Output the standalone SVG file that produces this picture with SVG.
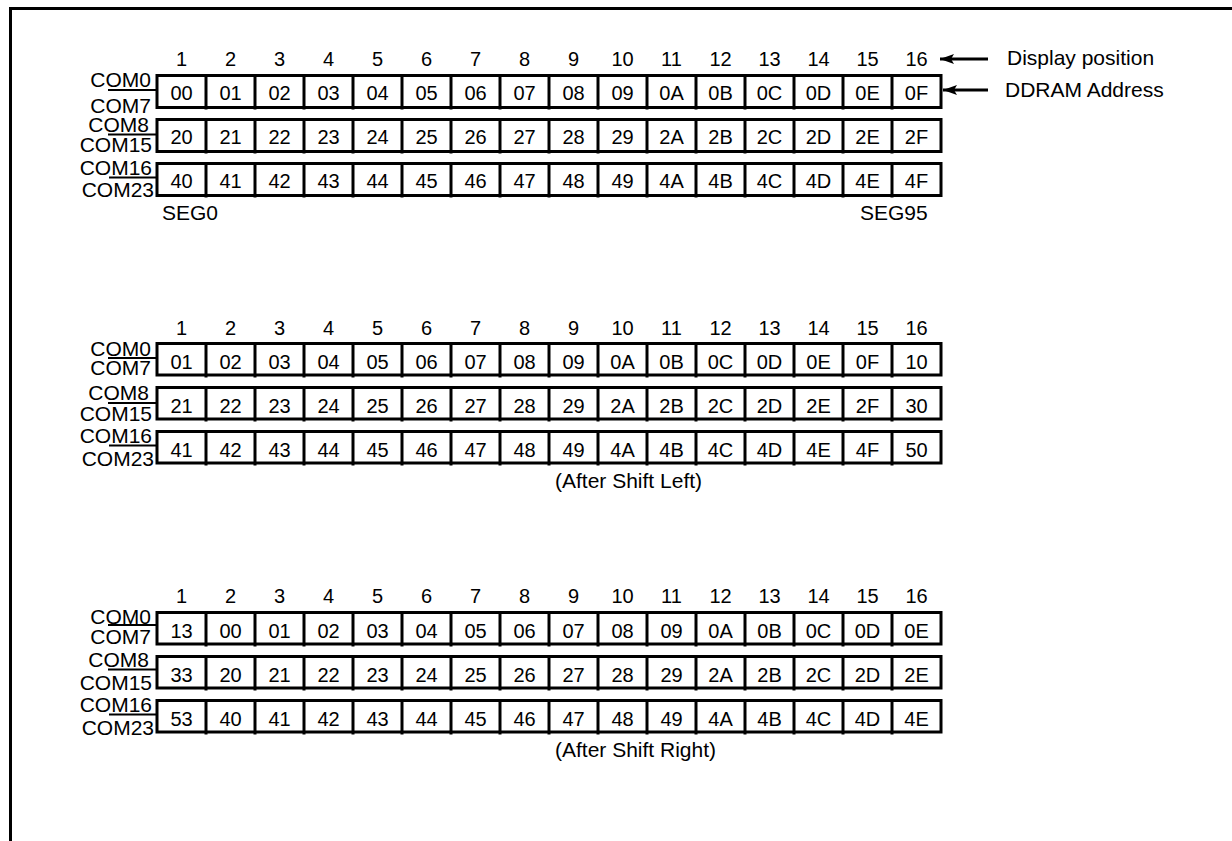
<svg xmlns="http://www.w3.org/2000/svg" width="1232" height="841" viewBox="0 0 1232 841">
<style>
text{font-family:"Liberation Sans",Arial,sans-serif;fill:#000}
.n{font-size:20px;text-anchor:middle}
.c{font-size:20px;text-anchor:middle}
.com{font-size:21px;text-anchor:end}
.lbl{font-size:21px}
.row{fill:#fff;stroke:#000;stroke-width:3}
.div{stroke:#000;stroke-width:3}
.ul{stroke:#000;stroke-width:2}
.frame{stroke:#000;stroke-width:3;fill:none}
.arr{stroke:#000;stroke-width:3;fill:none;marker-end:url(#ah)}
</style>
<defs>
<marker id="ah" markerUnits="userSpaceOnUse" markerWidth="14" markerHeight="10" refX="14" refY="5" orient="auto">
<path d="M0,0 L14,5 L0,10 L3,5 z" fill="#000"/>
</marker>
<g id="cols">
<line class="div" x1="206" y1="0" x2="206" y2="34"/><line class="div" x1="255" y1="0" x2="255" y2="34"/>
<line class="div" x1="304" y1="0" x2="304" y2="34"/><line class="div" x1="353" y1="0" x2="353" y2="34"/>
<line class="div" x1="402" y1="0" x2="402" y2="34"/><line class="div" x1="451" y1="0" x2="451" y2="34"/>
<line class="div" x1="500" y1="0" x2="500" y2="34"/><line class="div" x1="549" y1="0" x2="549" y2="34"/>
<line class="div" x1="598" y1="0" x2="598" y2="34"/><line class="div" x1="647" y1="0" x2="647" y2="34"/>
<line class="div" x1="696" y1="0" x2="696" y2="34"/><line class="div" x1="745" y1="0" x2="745" y2="34"/>
<line class="div" x1="794" y1="0" x2="794" y2="34"/><line class="div" x1="843" y1="0" x2="843" y2="34"/>
<line class="div" x1="892" y1="0" x2="892" y2="34"/>
</g>
<g id="nums">
<text class="n" x="181.5" y="0">1</text><text class="n" x="230.5" y="0">2</text><text class="n" x="279.5" y="0">3</text><text class="n" x="328.5" y="0">4</text>
<text class="n" x="377.5" y="0">5</text><text class="n" x="426.5" y="0">6</text><text class="n" x="475.5" y="0">7</text><text class="n" x="524.5" y="0">8</text>
<text class="n" x="573.5" y="0">9</text><text class="n" x="622.5" y="0">10</text><text class="n" x="671.5" y="0">11</text><text class="n" x="720.5" y="0">12</text>
<text class="n" x="769.5" y="0">13</text><text class="n" x="818.5" y="0">14</text><text class="n" x="867.5" y="0">15</text><text class="n" x="916.5" y="0">16</text>
</g>
</defs>

<g id="frame">
<polyline class="frame" points="10.5,841 10.5,8.5 1232,8.5"/>
</g>

<!-- Grid 1 -->
<g id="grid1">
<use href="#nums" y="66"/>
<g id="g1r1">
<rect class="row" x="157" y="75.5" width="784" height="32"/>
<use href="#cols" y="75.5" transform="translate(0,-0)" />
<text class="c" y="100"><tspan x="181.5">00</tspan><tspan x="230.5">01</tspan><tspan x="279.5">02</tspan><tspan x="328.5">03</tspan><tspan x="377.5">04</tspan><tspan x="426.5">05</tspan><tspan x="475.5">06</tspan><tspan x="524.5">07</tspan><tspan x="573.5">08</tspan><tspan x="622.5">09</tspan><tspan x="671.5">0A</tspan><tspan x="720.5">0B</tspan><tspan x="769.5">0C</tspan><tspan x="818.5">0D</tspan><tspan x="867.5">0E</tspan><tspan x="916.5">0F</tspan></text>
<text class="com" x="151" y="86.5">COM0</text><line class="ul" x1="108" y1="90" x2="157" y2="90"/><text class="com" x="151" y="113">COM7</text>
</g>
<g id="g1r2">
<rect class="row" x="157" y="119.5" width="784" height="32"/>
<use href="#cols" y="119.5"/>
<text class="c" y="144"><tspan x="181.5">20</tspan><tspan x="230.5">21</tspan><tspan x="279.5">22</tspan><tspan x="328.5">23</tspan><tspan x="377.5">24</tspan><tspan x="426.5">25</tspan><tspan x="475.5">26</tspan><tspan x="524.5">27</tspan><tspan x="573.5">28</tspan><tspan x="622.5">29</tspan><tspan x="671.5">2A</tspan><tspan x="720.5">2B</tspan><tspan x="769.5">2C</tspan><tspan x="818.5">2D</tspan><tspan x="867.5">2E</tspan><tspan x="916.5">2F</tspan></text>
<text class="com" x="149" y="131.5">COM8</text><line class="ul" x1="108" y1="134.5" x2="157" y2="134.5"/><text class="com" x="152" y="152">COM15</text>
</g>
<g id="g1r3">
<rect class="row" x="157" y="163.5" width="784" height="32"/>
<use href="#cols" y="163.5"/>
<text class="c" y="188"><tspan x="181.5">40</tspan><tspan x="230.5">41</tspan><tspan x="279.5">42</tspan><tspan x="328.5">43</tspan><tspan x="377.5">44</tspan><tspan x="426.5">45</tspan><tspan x="475.5">46</tspan><tspan x="524.5">47</tspan><tspan x="573.5">48</tspan><tspan x="622.5">49</tspan><tspan x="671.5">4A</tspan><tspan x="720.5">4B</tspan><tspan x="769.5">4C</tspan><tspan x="818.5">4D</tspan><tspan x="867.5">4E</tspan><tspan x="916.5">4F</tspan></text>
<text class="com" x="152" y="175">COM16</text><line class="ul" x1="109" y1="177.5" x2="157" y2="177.5"/><text class="com" x="154" y="196.5">COM23</text>
</g>
<text class="lbl" x="162" y="220">SEG0</text>
<text class="lbl" x="860" y="220">SEG95</text>
</g>

<g id="legend">
<text class="lbl" x="1007" y="65">Display position</text>
<text class="lbl" x="1005" y="97">DDRAM Address</text>
</g>

<g id="connectors">
<line class="arr" x1="988" y1="59" x2="940" y2="59"/>
<line class="arr" x1="988" y1="90" x2="943" y2="90"/>
</g>

<!-- Grid 2 -->
<g id="grid2">
<use href="#nums" y="335"/>
<g id="g2r1">
<rect class="row" x="157" y="343.5" width="784" height="31.5"/>
<use href="#cols" y="343.5"/>
<text class="c" y="368.5"><tspan x="181.5">01</tspan><tspan x="230.5">02</tspan><tspan x="279.5">03</tspan><tspan x="328.5">04</tspan><tspan x="377.5">05</tspan><tspan x="426.5">06</tspan><tspan x="475.5">07</tspan><tspan x="524.5">08</tspan><tspan x="573.5">09</tspan><tspan x="622.5">0A</tspan><tspan x="671.5">0B</tspan><tspan x="720.5">0C</tspan><tspan x="769.5">0D</tspan><tspan x="818.5">0E</tspan><tspan x="867.5">0F</tspan><tspan x="916.5">10</tspan></text>
<text class="com" x="151" y="355.5">COM0</text><line class="ul" x1="108" y1="358" x2="157" y2="358"/><text class="com" x="151" y="375">COM7</text>
</g>
<g id="g2r2">
<rect class="row" x="157" y="387.5" width="784" height="31.5"/>
<use href="#cols" y="387.5"/>
<text class="c" y="412.5"><tspan x="181.5">21</tspan><tspan x="230.5">22</tspan><tspan x="279.5">23</tspan><tspan x="328.5">24</tspan><tspan x="377.5">25</tspan><tspan x="426.5">26</tspan><tspan x="475.5">27</tspan><tspan x="524.5">28</tspan><tspan x="573.5">29</tspan><tspan x="622.5">2A</tspan><tspan x="671.5">2B</tspan><tspan x="720.5">2C</tspan><tspan x="769.5">2D</tspan><tspan x="818.5">2E</tspan><tspan x="867.5">2F</tspan><tspan x="916.5">30</tspan></text>
<text class="com" x="149" y="400">COM8</text><line class="ul" x1="108" y1="403" x2="157" y2="403"/><text class="com" x="152" y="421">COM15</text>
</g>
<g id="g2r3">
<rect class="row" x="157" y="431.5" width="784" height="31.5"/>
<use href="#cols" y="431.5"/>
<text class="c" y="456.5"><tspan x="181.5">41</tspan><tspan x="230.5">42</tspan><tspan x="279.5">43</tspan><tspan x="328.5">44</tspan><tspan x="377.5">45</tspan><tspan x="426.5">46</tspan><tspan x="475.5">47</tspan><tspan x="524.5">48</tspan><tspan x="573.5">49</tspan><tspan x="622.5">4A</tspan><tspan x="671.5">4B</tspan><tspan x="720.5">4C</tspan><tspan x="769.5">4D</tspan><tspan x="818.5">4E</tspan><tspan x="867.5">4F</tspan><tspan x="916.5">50</tspan></text>
<text class="com" x="152" y="443">COM16</text><line class="ul" x1="109" y1="445.5" x2="157" y2="445.5"/><text class="com" x="154" y="466">COM23</text>
</g>
<text class="lbl" x="555" y="488">(After Shift Left)</text>
</g>

<!-- Grid 3 -->
<g id="grid3">
<use href="#nums" y="603"/>
<g id="g3r1">
<rect class="row" x="157" y="612.5" width="784" height="31.5"/>
<use href="#cols" y="612.5"/>
<text class="c" y="637.5"><tspan x="181.5">13</tspan><tspan x="230.5">00</tspan><tspan x="279.5">01</tspan><tspan x="328.5">02</tspan><tspan x="377.5">03</tspan><tspan x="426.5">04</tspan><tspan x="475.5">05</tspan><tspan x="524.5">06</tspan><tspan x="573.5">07</tspan><tspan x="622.5">08</tspan><tspan x="671.5">09</tspan><tspan x="720.5">0A</tspan><tspan x="769.5">0B</tspan><tspan x="818.5">0C</tspan><tspan x="867.5">0D</tspan><tspan x="916.5">0E</tspan></text>
<text class="com" x="151" y="623.5">COM0</text><line class="ul" x1="108" y1="625" x2="157" y2="625"/><text class="com" x="151" y="644">COM7</text>
</g>
<g id="g3r2">
<rect class="row" x="157" y="656.5" width="784" height="31.5"/>
<use href="#cols" y="656.5"/>
<text class="c" y="681.5"><tspan x="181.5">33</tspan><tspan x="230.5">20</tspan><tspan x="279.5">21</tspan><tspan x="328.5">22</tspan><tspan x="377.5">23</tspan><tspan x="426.5">24</tspan><tspan x="475.5">25</tspan><tspan x="524.5">26</tspan><tspan x="573.5">27</tspan><tspan x="622.5">28</tspan><tspan x="671.5">29</tspan><tspan x="720.5">2A</tspan><tspan x="769.5">2B</tspan><tspan x="818.5">2C</tspan><tspan x="867.5">2D</tspan><tspan x="916.5">2E</tspan></text>
<text class="com" x="149" y="667">COM8</text><line class="ul" x1="108" y1="669.5" x2="157" y2="669.5"/><text class="com" x="152" y="690">COM15</text>
</g>
<g id="g3r3">
<rect class="row" x="157" y="700.5" width="784" height="31.5"/>
<use href="#cols" y="700.5"/>
<text class="c" y="725.5"><tspan x="181.5">53</tspan><tspan x="230.5">40</tspan><tspan x="279.5">41</tspan><tspan x="328.5">42</tspan><tspan x="377.5">43</tspan><tspan x="426.5">44</tspan><tspan x="475.5">45</tspan><tspan x="524.5">46</tspan><tspan x="573.5">47</tspan><tspan x="622.5">48</tspan><tspan x="671.5">49</tspan><tspan x="720.5">4A</tspan><tspan x="769.5">4B</tspan><tspan x="818.5">4C</tspan><tspan x="867.5">4D</tspan><tspan x="916.5">4E</tspan></text>
<text class="com" x="152" y="712">COM16</text><line class="ul" x1="109" y1="714.5" x2="157" y2="714.5"/><text class="com" x="154" y="735">COM23</text>
</g>
<text class="lbl" x="555" y="757">(After Shift Right)</text>
</g>
</svg>
